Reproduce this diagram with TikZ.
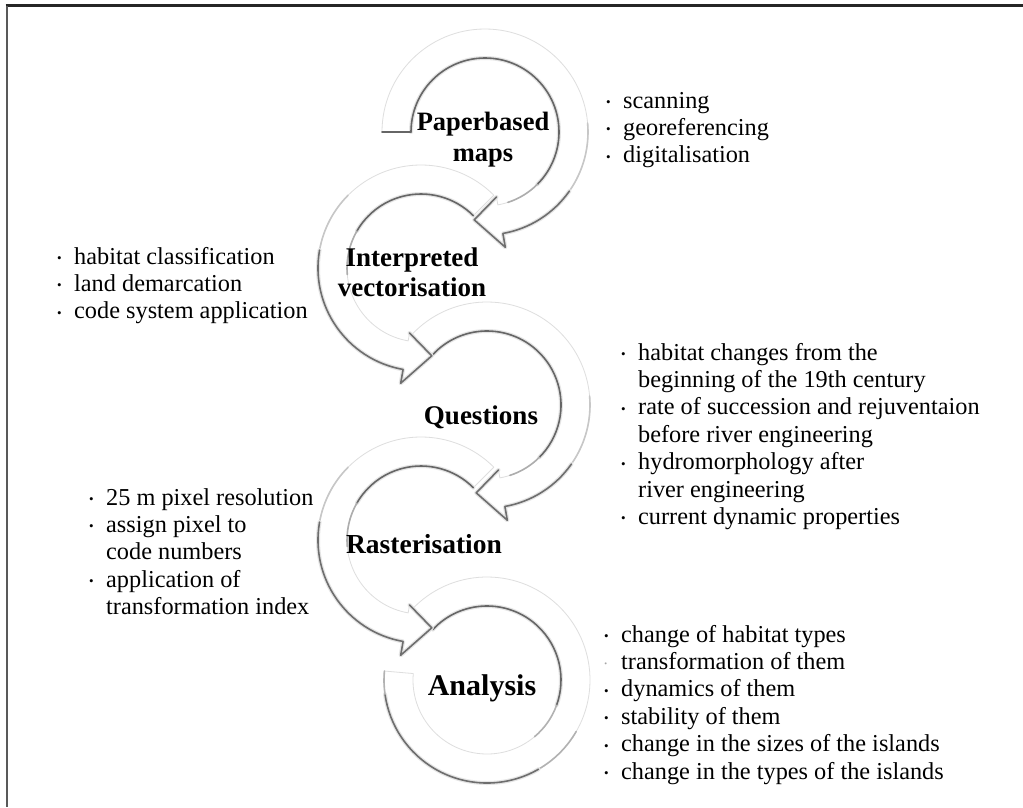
\documentclass[tikz,border=0pt]{standalone}
\usepackage{fontspec}
\setmainfont{Liberation Serif}
\newcommand{\bul}{\leavevmode\llap{\raisebox{1.5pt}{\fontsize{13}{13}\selectfont\textbullet}\hspace{12.5pt}}}
\newcommand{\bulfaint}{\leavevmode\llap{\raisebox{3pt}{\fontsize{8}{8}\selectfont\textcolor{black!35}{\textbullet}}\hspace{14pt}}}
% clockwise circular arrow with head: centre (#1,#2), start angle #3
\newcommand{\arrowcw}[3]{%
  \path[band] ([shift={(#1,#2)}]#3:103pt) arc[start angle=#3,end angle=-80,radius=103pt]
    -- ([shift={(#1,#2)}]-80:117pt) -- ([shift={(#1,#2)}]-97:88.5pt) -- ([shift={(#1,#2)}]-80:66pt)
    -- ([shift={(#1,#2)}]-80:74pt) arc[start angle=-80,end angle=#3,radius=74pt] -- cycle;
  \draw[halo] ([shift={(#1,#2)}]#3:74pt) arc[start angle=#3,end angle=-45,radius=74pt];
  \draw[dk=60] ([shift={(#1,#2)}]#3:74pt) arc[start angle=#3,end angle=-45,radius=74pt];
  \draw[dk=32] ([shift={(#1,#2)}]-45:74pt) arc[start angle=-45,end angle=-72,radius=74pt];
  \draw[dk=22] ([shift={(#1,#2)}]5:103pt) arc[start angle=5,end angle=-35,radius=103pt];
  \draw[halo] ([shift={(#1,#2)}]-35:103pt) arc[start angle=-35,end angle=-80,radius=103pt]
    -- ([shift={(#1,#2)}]-80:117pt) -- ([shift={(#1,#2)}]-97:88.5pt) -- ([shift={(#1,#2)}]-80:66pt);
  \draw[dk=57] ([shift={(#1,#2)}]-35:103pt) arc[start angle=-35,end angle=-80,radius=103pt]
    -- ([shift={(#1,#2)}]-80:117pt) -- ([shift={(#1,#2)}]-97:88.5pt) -- ([shift={(#1,#2)}]-80:66pt);
}
% counter-clockwise circular arrow with head: centre (#1,#2)
\newcommand{\arrowccw}[2]{%
  \path[band] ([shift={(#1,#2)}]45:103pt) arc[start angle=45,end angle=260,radius=103pt]
    -- ([shift={(#1,#2)}]260:117pt) -- ([shift={(#1,#2)}]277:88.5pt) -- ([shift={(#1,#2)}]260:66pt)
    -- ([shift={(#1,#2)}]260:74pt) arc[start angle=260,end angle=45,radius=74pt] -- cycle;
  \draw[halo] ([shift={(#1,#2)}]45:74pt) arc[start angle=45,end angle=150,radius=74pt];
  \draw[dk=60] ([shift={(#1,#2)}]45:74pt) arc[start angle=45,end angle=150,radius=74pt];
  \draw[dk=32] ([shift={(#1,#2)}]150:74pt) arc[start angle=150,end angle=185,radius=74pt];
  \draw[dk=22] ([shift={(#1,#2)}]135:103pt) arc[start angle=135,end angle=170,radius=103pt];
  \draw[halo] ([shift={(#1,#2)}]170:103pt) arc[start angle=170,end angle=260,radius=103pt]
    -- ([shift={(#1,#2)}]260:117pt) -- ([shift={(#1,#2)}]277:88.5pt) -- ([shift={(#1,#2)}]260:66pt);
  \draw[dk=57] ([shift={(#1,#2)}]170:103pt) arc[start angle=170,end angle=260,radius=103pt]
    -- ([shift={(#1,#2)}]260:117pt) -- ([shift={(#1,#2)}]277:88.5pt) -- ([shift={(#1,#2)}]260:66pt);
}
\begin{document}
\begin{tikzpicture}[x=1pt,y=1pt,
  band/.style={fill=white, draw=black!13, line width=0.8pt, line join=round},
  dk/.style={draw=black!#1, line width=1.6pt, line cap=round, line join=round},
  halo/.style={draw=black!10, line width=4pt, line cap=round, line join=round},
  lbl/.style={inner sep=0pt, anchor=base, font=\bfseries\fontsize{27}{30}\selectfont},
  lst/.style={inner sep=0pt, anchor=base west, font=\fontsize{24.3}{27.4}\selectfont}]
\useasboundingbox (0,0) rectangle (1023,-807);
\fill[white] (0,0) rectangle (1023,-807);
% frame
\draw[black!85, line width=2.5pt] (5.7,-5.7) -- (1023,-5.7);
\draw[black!65, line width=2pt] (6.7,-5.7) -- (6.7,-807);
% circular arrows (last first, so that each head lies over the next start)
% 5: Analysis (no head)
\path[band] ([shift={(487,-680)}]137:103pt) arc[start angle=137,end angle=-185,radius=103pt]
  -- ([shift={(487,-680)}]-185:74pt) arc[start angle=-185,end angle=137,radius=74pt] -- cycle;
\draw[halo] ([shift={(487,-680)}]137:74pt) arc[start angle=137,end angle=-20,radius=74pt];
\draw[dk=60] ([shift={(487,-680)}]137:74pt) arc[start angle=137,end angle=-20,radius=74pt];
\draw[dk=30] ([shift={(487,-680)}]-20:74pt) arc[start angle=-20,end angle=-50,radius=74pt];
\draw[dk=30] ([shift={(487,-680)}]-30:103pt) arc[start angle=-30,end angle=-60,radius=103pt];
\draw[halo] ([shift={(487,-680)}]-60:103pt) arc[start angle=-60,end angle=-172,radius=103pt];
\draw[dk=57] ([shift={(487,-680)}]-60:103pt) arc[start angle=-60,end angle=-172,radius=103pt];
\draw[dk=30] ([shift={(487,-680)}]-172:103pt) arc[start angle=-172,end angle=-185,radius=103pt];
% 4: Rasterisation
\arrowccw{421}{-540}
% 3: Questions
\arrowcw{487}{-405}{137}
% 2: Interpreted vectorisation
\arrowccw{421}{-268}
% 1: Paperbased maps
\arrowcw{485}{-132}{180}
\draw[dk=60] ([shift={(485,-132)}]180:74pt) -- ([shift={(485,-132)}]180:103pt);
% step labels
\node[lbl, font=\bfseries\fontsize{26.5}{31}\selectfont] (paper) at (483,-130)
  {\parbox[t]{200pt}{\centering Paperbased\\ maps}};
\node[lbl] (interp) at (412,-266) {\parbox[t]{200pt}{\centering Interpreted\\ vectorisation}};
\node[lbl] (quest) at (481,-424) {Questions};
\node[lbl, font=\bfseries\fontsize{27.5}{30}\selectfont] (raster) at (424,-553) {Rasterisation};
\node[lbl, font=\bfseries\fontsize{30}{33}\selectfont] (anal) at (482,-695) {Analysis};
% bullet lists
\node[lst] (list1) at (623,-108) {\parbox[t]{380pt}{\raggedright
  \bul scanning\\ \bul georeferencing\\ \bul digitalisation}};
\node[lst] (list2) at (74,-264) {\parbox[t]{260pt}{\raggedright
  \bul habitat classification\\ \bul land demarcation\\ \bul code system application}};
\node[lst] (list3) at (638,-360) {\parbox[t]{380pt}{\raggedright
  \bul habitat changes from the\\ beginning of the 19th century\\
  \bul rate of succession and rejuventaion\\ before river engineering\\
  \bul hydromorphology after\\ river engineering\\
  \bul current dynamic properties}};
\node[lst] (list4) at (106,-505) {\parbox[t]{240pt}{\raggedright
  \bul 25 m pixel resolution\\ \bul assign pixel to\\ code numbers\\
  \bul application of\\ transformation index}};
\node[lst] (list5) at (621,-642) {\parbox[t]{390pt}{\raggedright
  \bul change of habitat types\\ \bulfaint transformation of them\\
  \bul dynamics of them\\ \bul stability of them\\
  \bul change in the sizes of the islands\\ \bul change in the types of the islands}};
\end{tikzpicture}
\end{document}
